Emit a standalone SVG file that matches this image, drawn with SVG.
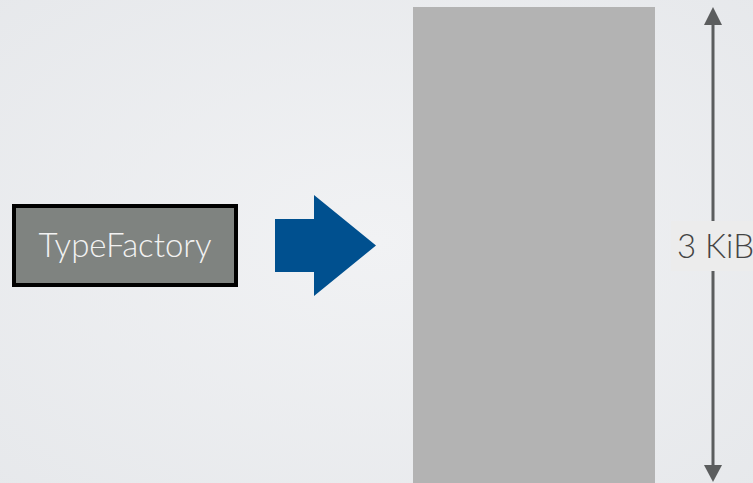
<svg xmlns="http://www.w3.org/2000/svg" width="753" height="483" viewBox="0 0 753 483">
  <defs>
    <radialGradient id="bg" cx="50%" cy="50%" r="75%">
      <stop offset="0" stop-color="#f1f2f4"/>
      <stop offset="1" stop-color="#e6e8eb"/>
    </radialGradient>
    <style>
      .lbl { font-family: Lato, "Liberation Sans", sans-serif; font-weight: 300; }
    </style>
  </defs>
  <rect x="0" y="0" width="753" height="483" fill="url(#bg)"/>

  <g id="typefactory">
    <rect x="14" y="206" width="222" height="79" fill="#7f8380" stroke="#000" stroke-width="4"/>
    <text class="lbl" x="125" y="257" text-anchor="middle" font-size="33" fill="#f2f2f2">TypeFactory</text>
  </g>

  <g id="block">
    <rect x="413" y="7" width="242" height="476" fill="#b3b3b3"/>
  </g>

  <g id="connectors">
    <path id="bigarrow" d="M275,219 H314 V195 L376,245.5 L314,296 V272 H275 Z" fill="#00508f"/>
    <line x1="713" y1="25" x2="713" y2="466" stroke="#5b5d5e" stroke-width="3"/>
    <path d="M713,7 L722,25 L704,25 Z" fill="#5b5d5e"/>
    <path d="M713,482 L722,465 L704,465 Z" fill="#5b5d5e"/>
  </g>

  <g id="size-label">
    <rect x="671" y="221" width="82" height="50" fill="#ececec"/>
    <text class="lbl" x="677" y="258" font-size="33" fill="#444">3 KiB</text>
  </g>
</svg>
